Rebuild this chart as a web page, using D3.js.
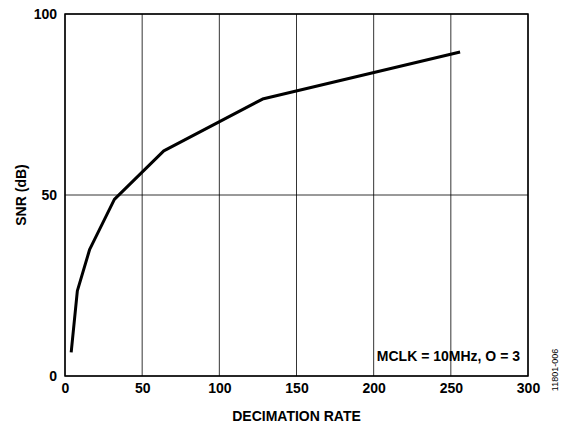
<!DOCTYPE html>
<html><head><meta charset="utf-8">
<script src="https://cdn.jsdelivr.net/npm/d3@7"></script>
<style>body{margin:0;background:#fff}</style>
</head><body><svg id="chart"></svg>
<script>
const decimation = [4, 8, 16, 32, 64, 128, 256];
const snr = [6.5, 23.5, 35, 48.8, 62.2, 76.5, 89.5];
const xTicks = [0, 50, 100, 150, 200, 250, 300];
const yTicks = [0, 50, 100];

const margin = { top: 14, right: 45, bottom: 58, left: 65 };
const W = 573, H = 434;
const w = W - margin.left - margin.right, h = H - margin.top - margin.bottom;
const svg = d3.select("#chart").attr("width", W).attr("height", H);
const g = svg.append("g").attr("transform", `translate(${margin.left},${margin.top})`);
const x = d3.scaleLinear().domain([0, 300]).range([0, w]);
const y = d3.scaleLinear().domain([0, 100]).range([h, 0]);

// grid
g.selectAll(".vg").data(xTicks).join("line")
  .attr("x1", d => x(d)).attr("x2", d => x(d)).attr("y1", 0).attr("y2", h)
  .attr("stroke", "#000").attr("stroke-width", 0.8);
g.selectAll(".hg").data(yTicks).join("line")
  .attr("y1", d => y(d)).attr("y2", d => y(d)).attr("x1", 0).attr("x2", w)
  .attr("stroke", "#000").attr("stroke-width", 0.8);
g.append("rect").attr("width", w).attr("height", h).attr("fill", "none")
  .attr("stroke", "#000").attr("stroke-width", 1.5);

const font = "Liberation Sans, Arial, sans-serif";
g.append("g").attr("transform", `translate(0,${h})`)
  .call(d3.axisBottom(x).tickValues(xTicks).tickSize(0).tickPadding(7))
  .call(a => a.select(".domain").remove())
  .selectAll("text").attr("font-size", 14).attr("font-weight", "bold").attr("font-family", font).attr("fill", "#000");
g.append("g")
  .call(d3.axisLeft(y).tickValues(yTicks).tickSize(0).tickPadding(8))
  .call(a => a.select(".domain").remove())
  .selectAll("text").attr("font-size", 14).attr("font-weight", "bold").attr("font-family", font).attr("fill", "#000");

const pts = decimation.map((d, i) => [d, snr[i]]);
g.append("path").datum(pts)
  .attr("d", d3.line().x(d => x(d[0])).y(d => y(d[1])))
  .attr("fill", "none").attr("stroke", "#000").attr("stroke-width", 3).attr("stroke-linejoin", "round");

g.append("text").attr("x", w - 8).attr("y", h - 15).attr("text-anchor", "end")
  .attr("font-size", 14).attr("font-weight", "bold").attr("font-family", font)
  .text("MCLK = 10MHz, O = 3");

svg.append("text").attr("x", margin.left + w / 2).attr("y", 421).attr("text-anchor", "middle")
  .attr("font-size", 14).attr("font-weight", "bold").attr("font-family", font).text("DECIMATION RATE");
svg.append("text").attr("transform", `translate(26,${margin.top + h / 2}) rotate(-90)`).attr("text-anchor", "middle")
  .attr("font-size", 14).attr("font-weight", "bold").attr("font-family", font).text("SNR (dB)");
svg.append("text").attr("transform", `translate(558,370) rotate(-90)`).attr("text-anchor", "middle")
  .attr("font-size", 9).attr("font-family", font).text("11801-006");
</script></body></html>
